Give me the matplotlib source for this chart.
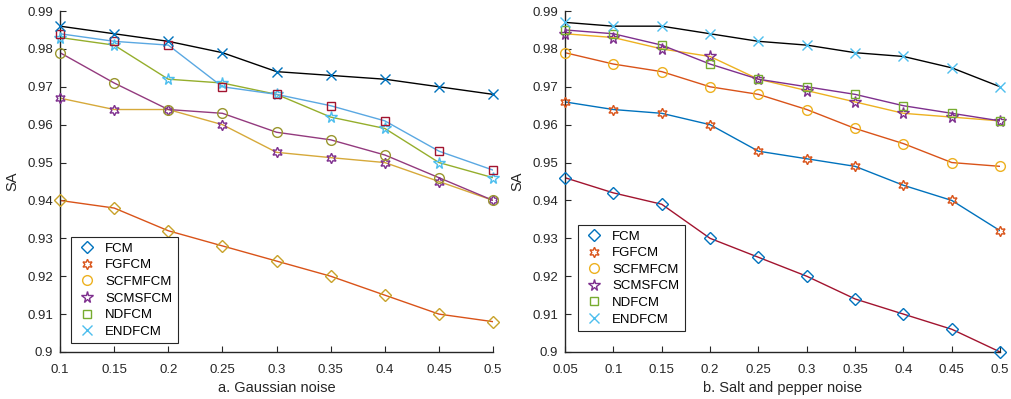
import matplotlib
matplotlib.use("Agg")
import matplotlib.pyplot as plt
from matplotlib.lines import Line2D

plt.rcParams['font.family'] = ['Liberation Sans', 'DejaVu Sans']

names = ['FCM', 'FGFCM', 'SCFMFCM', 'SCMSFCM', 'NDFCM', 'ENDFCM']

# a. Gaussian noise
x_gauss = [0.1, 0.15, 0.2, 0.25, 0.3, 0.35, 0.4, 0.45, 0.5]
g_fcm = [0.940, 0.938, 0.932, 0.928, 0.924, 0.920, 0.915, 0.910, 0.908]
g_fgfcm = [0.967, 0.964, 0.964, 0.960, 0.9527, 0.9513, 0.950, 0.945, 0.940]
g_scfmfcm = [0.979, 0.971, 0.964, 0.963, 0.958, 0.956, 0.952, 0.946, 0.940]
g_scmsfcm = [0.983, 0.981, 0.972, 0.971, 0.968, 0.962, 0.959, 0.950, 0.946]
g_ndfcm = [0.984, 0.982, 0.981, 0.970, 0.968, 0.965, 0.961, 0.953, 0.948]
g_endfcm = [0.986, 0.984, 0.982, 0.979, 0.974, 0.973, 0.972, 0.970, 0.968]

# b. Salt and pepper noise
x_salt = [0.05, 0.1, 0.15, 0.2, 0.25, 0.3, 0.35, 0.4, 0.45, 0.5]
s_fcm = [0.946, 0.942, 0.939, 0.930, 0.925, 0.920, 0.914, 0.910, 0.906, 0.900]
s_fgfcm = [0.966, 0.964, 0.963, 0.960, 0.953, 0.951, 0.949, 0.944, 0.940, 0.932]
s_scfmfcm = [0.979, 0.976, 0.974, 0.970, 0.968, 0.964, 0.959, 0.955, 0.950, 0.949]
s_scmsfcm = [0.984, 0.983, 0.980, 0.978, 0.972, 0.969, 0.966, 0.963, 0.962, 0.961]
s_ndfcm = [0.985, 0.984, 0.981, 0.976, 0.972, 0.970, 0.968, 0.965, 0.963, 0.961]
s_endfcm = [0.987, 0.986, 0.986, 0.984, 0.982, 0.981, 0.979, 0.978, 0.975, 0.970]

BLUE, ORANGE, YELLOW = '#0072BD', '#D95319', '#EDB120'
PURPLE, GREEN, CYAN, RED = '#7E2F8E', '#77AC30', '#4DBEEE', '#A2142F'
HEXA = (6, 1, 0)

legend_style = [('D', BLUE, 6), (HEXA, ORANGE, 7.5), ('o', YELLOW, 7),
                ('*', PURPLE, 8.5), ('s', GREEN, 6), ('x', CYAN, 7)]

# (values, line colour, marker, marker colour, marker size)
gauss_series = [
    (g_fcm, ORANGE, 'D', '#C8A22A', 6),
    (g_fgfcm, '#D6A93A', HEXA, PURPLE, 7.5),
    (g_scfmfcm, '#933A7E', 'o', '#9A962E', 7),
    (g_scmsfcm, '#95AE2C', '*', CYAN, 8.5),
    (g_ndfcm, '#5AA8E2', 's', RED, 6),
    (g_endfcm, 'black', 'x', BLUE, 7),
]
salt_series = [
    (s_fcm, RED, 'D', BLUE, 6),
    (s_fgfcm, BLUE, HEXA, ORANGE, 7.5),
    (s_scfmfcm, ORANGE, 'o', YELLOW, 7),
    (s_scmsfcm, YELLOW, '*', PURPLE, 8.5),
    (s_ndfcm, PURPLE, 's', GREEN, 6),
    (s_endfcm, 'black', 'x', CYAN, 7),
]

fig = plt.figure(figsize=(10.12, 3.99), dpi=100)
ax1 = fig.add_axes([0.0593, 0.1178, 0.428, 0.8546])
ax2 = fig.add_axes([0.5583, 0.1178, 0.430, 0.8546])

def draw(ax, xs, series, xlabel, xticks, leg_anchor):
    for ys, lc, mk, mc, ms in series:
        ax.plot(xs, ys, '-', color=lc, lw=1.0, zorder=2)
    for ys, lc, mk, mc, ms in series:
        ax.plot(xs, ys, ls='none', marker=mk, ms=ms, mfc='none', mec=mc,
                mew=1.0, zorder=3, clip_on=False)
    ax.set_xlim(xs[0], xs[-1])
    ax.set_ylim(0.9, 0.99)
    ax.set_xticks(xticks)
    ax.set_xticklabels([('%g' % t) for t in xticks])
    ax.set_yticks([0.9 + 0.01 * i for i in range(10)])
    ax.set_yticklabels(['0.9'] + ['%.2f' % (0.9 + 0.01 * i) for i in range(1, 10)])
    ax.spines['top'].set_visible(False)
    ax.spines['right'].set_visible(False)
    for s in ('left', 'bottom'):
        ax.spines[s].set_color('#262626')
        ax.spines[s].set_linewidth(1.0)
    ax.tick_params(direction='in', length=4, width=0.8, colors='#262626',
                   labelsize=9.5)
    ax.tick_params(axis='x', pad=9)
    ax.tick_params(axis='y', pad=5)
    ax.set_xlabel(xlabel, fontsize=10.5, color='#262626', labelpad=3)
    ax.set_ylabel('SA', fontsize=10.5, color='#262626', labelpad=6)
    handles = [Line2D([], [], ls='none', marker=m, ms=s, mfc='none', mec=c, mew=1.0)
               for m, c, s in legend_style]
    leg = ax.legend(handles, names, loc='lower left', bbox_to_anchor=leg_anchor,
                    borderaxespad=0, fontsize=9.5, fancybox=False, framealpha=1,
                    edgecolor='#262626', handletextpad=0.6, labelspacing=0.33,
                    borderpad=0.4, handlelength=1.6)
    leg.get_frame().set_linewidth(0.8)

draw(ax1, x_gauss, gauss_series, 'a. Gaussian noise', x_gauss, (0.025, 0.026))
draw(ax2, x_salt, salt_series, 'b. Salt and pepper noise', x_salt, (0.030, 0.062))

fig.savefig('out.png', dpi=100)
